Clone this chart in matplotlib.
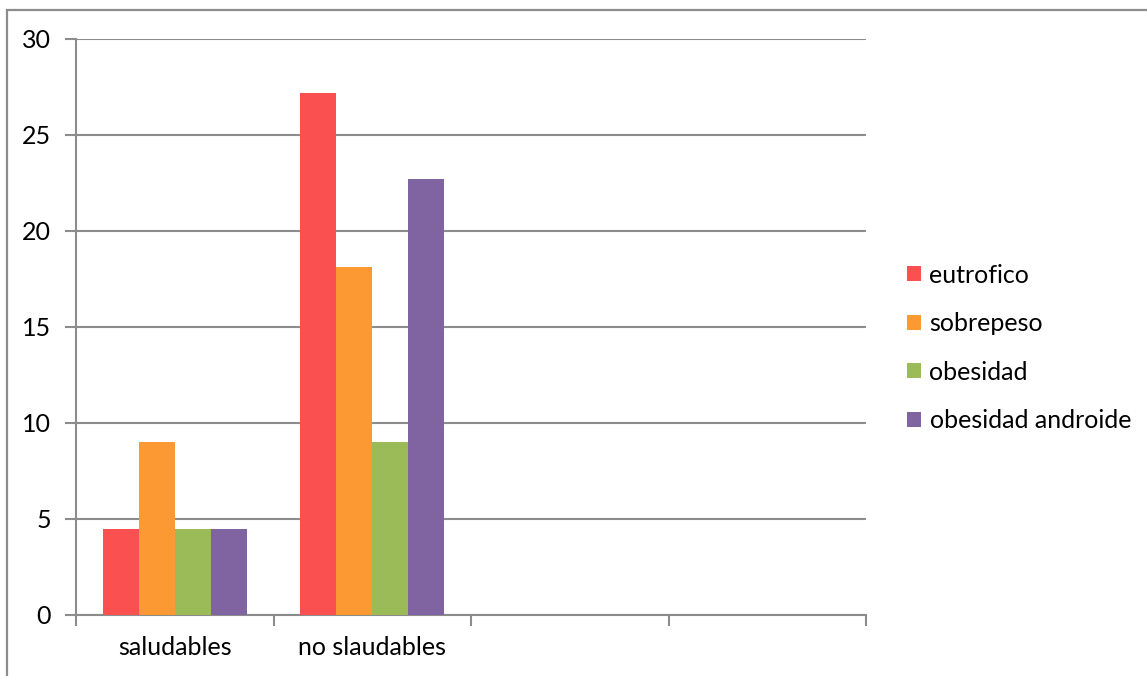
import matplotlib
matplotlib.use("Agg")
import matplotlib.pyplot as plt
from matplotlib.patches import Rectangle
import numpy as np

categories = ["saludables", "no slaudables", "", ""]
series_names = ["eutrofico", "sobrepeso", "obesidad", "obesidad androide"]
eutrofico = [4.5, 27.2, None, None]
sobrepeso = [9.0, 18.1, None, None]
obesidad = [4.5, 9.0, None, None]
obesidad_androide = [4.5, 22.7, None, None]
colors = ["#FA5050", "#FC9933", "#9BBB59", "#8064A2"]
y_ticks = [0, 5, 10, 15, 20, 25, 30]

plt.rcParams["font.family"] = ["Lato", "DejaVu Sans"]
grid_col = "#8C8C8C"
fs = 18

fig = plt.figure(figsize=(11.47, 6.76), dpi=100)
ax = fig.add_axes([76 / 1147, 1 - 615 / 676, 790 / 1147, 576 / 676])

# outer chart frame
fig.patches.append(Rectangle((7 / 1147, -0.1), 1.2, 1 - 9.5 / 676 + 0.1,
                             transform=fig.transFigure, fill=False,
                             edgecolor=grid_col, linewidth=1.6))

series = [eutrofico, sobrepeso, obesidad, obesidad_androide]
n = len(series)
bar_w = 0.182
centers = np.arange(len(categories)) + 0.5
for i, (name, vals, col) in enumerate(zip(series_names, series, colors)):
    vals_num = [np.nan if v is None else v for v in vals]
    offs = (i - (n - 1) / 2) * bar_w
    ax.bar(centers + offs, vals_num, width=bar_w, color=col, label=name,
           zorder=3, linewidth=0)

ax.set_xlim(0, len(categories))
ax.set_ylim(0, 30)
ax.set_yticks(y_ticks)
ax.yaxis.grid(True, color=grid_col, linewidth=1.5, zorder=0)
ax.set_axisbelow(True)

ax.set_xticks(np.arange(len(categories) + 1))
ax.set_xticklabels([])
ax.set_xticks(centers, minor=True)
ax.set_xticklabels(categories, minor=True)
ax.tick_params(axis="x", which="major", length=8, width=1.5, color=grid_col, direction="out")
ax.tick_params(axis="x", which="minor", length=0, pad=15, labelsize=fs)
ax.tick_params(axis="y", length=8, width=1.5, color=grid_col, pad=10, labelsize=fs)

for s in ["top", "right"]:
    ax.spines[s].set_visible(False)
for s in ["left", "bottom"]:
    ax.spines[s].set_color(grid_col)
    ax.spines[s].set_linewidth(1.5)

leg = fig.legend(loc="center left", bbox_to_anchor=(907 / 1147, 1 - 348 / 676),
                 frameon=False, fontsize=fs, handlelength=0.55, handleheight=0.55,
                 handletextpad=0.35, labelspacing=1.02, borderaxespad=0,
                 borderpad=0)

fig.savefig("out.png", dpi=100)
